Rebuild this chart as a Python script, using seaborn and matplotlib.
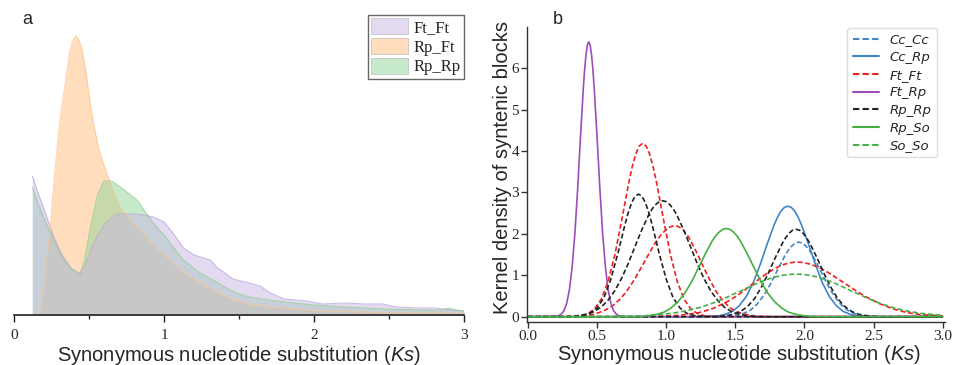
import matplotlib
matplotlib.use("Agg")
import matplotlib.pyplot as plt
from matplotlib.patches import Patch
import seaborn as sns
import pandas as pd

# ---- panel a: Ks distributions (arbitrary height units, no y axis) ----
a_pairs = ["Ft_Ft", "Rp_Ft", "Rp_Rp"]

a_ft_ft_ks = [0.122, 0.16, 0.2, 0.26, 0.32, 0.38, 0.44, 0.48, 0.52, 0.56, 0.61, 0.67, 0.72,
              0.8, 0.87, 0.93, 1.0, 1.06, 1.13, 1.2, 1.31, 1.35, 1.46, 1.57, 1.64, 1.71, 1.8,
              1.95, 2.06, 2.2, 2.35, 2.46, 2.55, 2.7, 2.8, 2.9, 3.0]
a_ft_ft_h = [139, 122, 106, 80, 60, 47, 41, 52, 68, 80, 92, 100, 101,
             101, 100, 98, 93, 82, 67, 60, 55, 48, 36, 32, 29, 22, 16,
             14, 11, 12, 11, 11, 8, 7, 7, 5.5, 4]

a_rp_ft_ks = [0.165, 0.2, 0.24, 0.26, 0.284, 0.31, 0.34, 0.37, 0.39, 0.41, 0.43, 0.45, 0.48,
              0.507, 0.535, 0.562, 0.59, 0.618, 0.66, 0.707, 0.78, 0.862, 0.93, 1.0, 1.07,
              1.13, 1.24, 1.35, 1.46, 1.57, 1.7, 1.8, 2.0, 2.2, 2.46, 2.7, 3.0]
a_rp_ft_h = [0, 30, 85, 122, 162, 200, 230, 262, 274, 279, 276, 268, 243,
             212, 188, 168, 154, 142, 125, 108, 94, 82, 70, 60, 51,
             43, 32, 23, 15, 11, 8, 7, 4.3, 3.5, 2.3, 2, 1.7]

a_rp_rp_ks = [0.122, 0.16, 0.2, 0.26, 0.32, 0.38, 0.44, 0.47, 0.5, 0.53, 0.56, 0.6, 0.65, 0.71,
              0.76, 0.82, 0.88, 0.95, 1.0, 1.06, 1.13, 1.24, 1.35, 1.44, 1.5, 1.57, 1.7,
              1.8, 2.0, 2.2, 2.46, 2.7, 2.85, 2.9, 2.95, 3.0]
a_rp_rp_h = [128, 112, 97, 76, 58, 46, 41, 55, 80, 103, 122, 134, 134, 128,
             122, 115, 102, 88, 80, 68, 55, 42, 33, 25, 21, 18, 15,
             13, 10, 8, 6, 5, 5, 7, 5, 4]

# ---- panel b: fitted kernel density peaks of syntenic blocks ----
b_pairs = ["Cc_Cc", "Cc_Rp", "Ft_Ft", "Ft_Rp", "Rp_Rp", "Rp_So", "So_So"]

cc_cc_ks = [0.0, 1.41, 1.46, 1.51, 1.56, 1.61, 1.66, 1.71, 1.76, 1.81, 1.86, 1.885, 1.91, 1.935,
            1.96, 1.985, 2.01, 2.035, 2.06, 2.11, 2.16, 2.21, 2.26, 2.31, 2.36, 2.41, 2.46, 2.51, 3.0]
cc_cc_den = [0, 0, 0.01, 0.03, 0.08, 0.16, 0.31, 0.53, 0.82, 1.16, 1.48, 1.61, 1.71, 1.78,
             1.80, 1.78, 1.71, 1.61, 1.48, 1.16, 0.82, 0.53, 0.31, 0.16, 0.08, 0.03, 0.01, 0, 0]

cc_rp_ks = [0.0, 1.28, 1.33, 1.38, 1.43, 1.48, 1.53, 1.58, 1.63, 1.68, 1.73, 1.78, 1.805, 1.83,
            1.855, 1.88, 1.905, 1.93, 1.955, 1.98, 2.03, 2.08, 2.13, 2.18, 2.23, 2.28, 2.33,
            2.38, 2.43, 2.48, 3.0]
cc_rp_den = [0, 0, 0.01, 0.02, 0.06, 0.13, 0.27, 0.49, 0.82, 1.26, 1.75, 2.21, 2.40, 2.55,
             2.64, 2.67, 2.64, 2.55, 2.40, 2.21, 1.75, 1.26, 0.82, 0.49, 0.27, 0.13, 0.06,
             0.02, 0.01, 0, 0]

ft_ft_1_ks = [0.0, 0.28, 0.33, 0.38, 0.43, 0.48, 0.53, 0.58, 0.63, 0.68, 0.73, 0.755, 0.78, 0.805,
              0.83, 0.855, 0.88, 0.905, 0.93, 0.98, 1.03, 1.08, 1.13, 1.18, 1.23, 1.28, 1.33,
              1.38, 3.0]
ft_ft_1_den = [0, 0, 0.01, 0.02, 0.07, 0.18, 0.42, 0.85, 1.51, 2.36, 3.25, 3.63, 3.93, 4.12,
               4.19, 4.12, 3.93, 3.63, 3.25, 2.36, 1.51, 0.85, 0.42, 0.18, 0.07, 0.02, 0.01,
               0, 0]

ft_ft_2_ks = [0.0, 0.315, 0.365, 0.415, 0.465, 0.515, 0.565, 0.615, 0.665, 0.715, 0.765, 0.815,
              0.865, 0.915, 0.965, 1.015, 1.065, 1.115, 1.165, 1.215, 1.265, 1.315, 1.365,
              1.415, 1.465, 1.515, 1.565, 1.615, 1.665, 1.765, 3.0]
ft_ft_2_den = [0, 0, 0.01, 0.03, 0.05, 0.10, 0.17, 0.27, 0.42, 0.62, 0.87, 1.16,
               1.46, 1.75, 1.99, 2.15, 2.21, 2.13, 1.91, 1.59, 1.23, 0.89, 0.59,
               0.37, 0.21, 0.11, 0.06, 0.03, 0.01, 0, 0]

ft_ft_3_ks = [0.0, 0.84, 0.94, 1.04, 1.14, 1.24, 1.34, 1.44, 1.49, 1.54, 1.59, 1.64, 1.69, 1.74,
              1.79, 1.84, 1.89, 1.94, 1.99, 2.04, 2.09, 2.14, 2.19, 2.24, 2.29, 2.34, 2.39,
              2.44, 2.54, 2.64, 2.74, 2.84, 2.94, 3.0]
ft_ft_3_den = [0, 0, 0.01, 0.02, 0.05, 0.10, 0.20, 0.36, 0.46, 0.57, 0.70, 0.83, 0.95, 1.07,
               1.17, 1.25, 1.30, 1.32, 1.31, 1.27, 1.21, 1.13, 1.03, 0.92, 0.81, 0.70, 0.59,
               0.49, 0.32, 0.19, 0.10, 0.05, 0.03, 0.02]

ft_rp_ks = [0.0, 0.20, 0.22, 0.24, 0.26, 0.28, 0.30, 0.32, 0.34, 0.36, 0.38, 0.40, 0.41, 0.42,
            0.43, 0.44, 0.45, 0.46, 0.47, 0.48, 0.50, 0.52, 0.54, 0.56, 0.58, 0.60, 0.62, 0.64,
            0.66, 0.68, 0.72, 3.0]
ft_rp_den = [0, 0.01, 0.02, 0.06, 0.14, 0.32, 0.65, 1.21, 2.03, 3.11, 4.34, 5.49, 5.97, 6.33,
             6.56, 6.64, 6.56, 6.33, 5.97, 5.49, 4.34, 3.11, 2.03, 1.21, 0.65, 0.32, 0.14, 0.06,
             0.02, 0.01, 0, 0]

rp_rp_1_ks = [0.0, 0.25, 0.30, 0.35, 0.40, 0.45, 0.50, 0.55, 0.60, 0.65, 0.70, 0.725, 0.75, 0.775,
              0.80, 0.825, 0.85, 0.875, 0.90, 0.95, 1.00, 1.05, 1.10, 1.15, 1.20, 1.25, 1.35, 3.0]
rp_rp_1_den = [0, 0, 0, 0.01, 0.03, 0.08, 0.21, 0.46, 0.91, 1.52, 2.20, 2.51, 2.75, 2.91,
               2.96, 2.91, 2.75, 2.51, 2.20, 1.52, 0.91, 0.46, 0.21, 0.08, 0.03, 0.01, 0, 0]

rp_rp_2_ks = [0.0, 0.275, 0.325, 0.375, 0.425, 0.475, 0.525, 0.575, 0.625, 0.675, 0.725, 0.775,
              0.825, 0.875, 0.90, 0.925, 0.95, 0.975, 1.00, 1.025, 1.05, 1.075, 1.125, 1.175,
              1.225, 1.275, 1.325, 1.375, 1.425, 1.475, 1.525, 1.575, 1.625, 1.675, 3.0]
rp_rp_2_den = [0, 0, 0.01, 0.03, 0.06, 0.12, 0.22, 0.38, 0.61, 0.91, 1.28, 1.70,
               2.11, 2.47, 2.61, 2.71, 2.78, 2.80, 2.78, 2.71, 2.61, 2.47, 2.11, 1.70,
               1.28, 0.91, 0.61, 0.38, 0.22, 0.12, 0.06, 0.03, 0.01, 0, 0]

rp_rp_3_ks = [0.0, 1.34, 1.39, 1.44, 1.49, 1.54, 1.59, 1.64, 1.69, 1.74, 1.79, 1.84, 1.865, 1.89,
              1.915, 1.94, 1.965, 1.99, 2.015, 2.04, 2.09, 2.14, 2.19, 2.24, 2.29, 2.34, 2.39,
              2.44, 2.49, 2.54, 3.0]
rp_rp_3_den = [0, 0, 0.01, 0.03, 0.06, 0.13, 0.25, 0.44, 0.72, 1.06, 1.43, 1.77, 1.91, 2.02,
               2.09, 2.11, 2.09, 2.02, 1.91, 1.77, 1.43, 1.06, 0.72, 0.44, 0.25, 0.13, 0.06,
               0.03, 0.01, 0, 0]

rp_so_ks = [0.0, 0.785, 0.835, 0.885, 0.935, 0.985, 1.035, 1.085, 1.135, 1.185, 1.235, 1.285,
            1.335, 1.36, 1.385, 1.41, 1.435, 1.46, 1.485, 1.51, 1.535, 1.585, 1.635, 1.685,
            1.735, 1.785, 1.835, 1.885, 1.935, 1.985, 2.035, 2.085, 3.0]
rp_so_den = [0, 0, 0.01, 0.03, 0.06, 0.11, 0.21, 0.36, 0.57, 0.85, 1.19, 1.53,
             1.84, 1.96, 2.05, 2.11, 2.13, 2.11, 2.05, 1.96, 1.84, 1.53, 1.19, 0.85,
             0.57, 0.36, 0.21, 0.11, 0.06, 0.03, 0.01, 0, 0]

so_so_ks = [0.0, 0.54, 0.74, 0.84, 0.94, 1.04, 1.14, 1.24, 1.34, 1.44, 1.49, 1.54, 1.59, 1.64,
            1.69, 1.74, 1.79, 1.84, 1.89, 1.94, 1.99, 2.04, 2.09, 2.14, 2.19, 2.24, 2.29,
            2.34, 2.39, 2.44, 2.54, 2.64, 2.74, 2.84, 2.94, 3.0]
so_so_den = [0, 0, 0.01, 0.02, 0.05, 0.08, 0.14, 0.22, 0.33, 0.47, 0.55, 0.62, 0.70, 0.78,
             0.85, 0.91, 0.96, 1.00, 1.02, 1.03, 1.02, 1.00, 0.96, 0.91, 0.85, 0.78, 0.70,
             0.62, 0.55, 0.47, 0.33, 0.22, 0.14, 0.08, 0.05, 0.03]

# ---- styles ----
a_fill = {"Ft_Ft": "#c8b6e4", "Rp_Ft": "#ffbd7d", "Rp_Rp": "#91d79b"}
a_edge = {"Ft_Ft": "#b9a2dc", "Rp_Ft": "#ffc48e", "Rp_Rp": "#8ccf8c"}
b_colors = {"Cc_Cc": "#3f86c8", "Cc_Rp": "#3f86c8", "Ft_Ft": "#f02020", "Ft_Rp": "#9c4db8",
            "Rp_Rp": "#222222", "Rp_So": "#44b044", "So_So": "#44b044"}
b_dashes = {"Cc_Cc": (3, 1.6), "Cc_Rp": "", "Ft_Ft": (3, 1.6), "Ft_Rp": "",
            "Rp_Rp": (3, 1.6), "Rp_So": "", "So_So": (3, 1.6)}


def build_panel_a():
    rows = []
    for pair, ks, h in [("Ft_Ft", a_ft_ft_ks, a_ft_ft_h),
                        ("Rp_Ft", a_rp_ft_ks, a_rp_ft_h),
                        ("Rp_Rp", a_rp_rp_ks, a_rp_rp_h)]:
        rows.append(pd.DataFrame({"pair": pair, "ks": ks, "h": h}))
    return pd.concat(rows, ignore_index=True)


def build_panel_b():
    comps = [("Cc_Cc", "cc_cc", cc_cc_ks, cc_cc_den),
             ("Cc_Rp", "cc_rp", cc_rp_ks, cc_rp_den),
             ("Ft_Ft", "ft_ft_1", ft_ft_1_ks, ft_ft_1_den),
             ("Ft_Ft", "ft_ft_2", ft_ft_2_ks, ft_ft_2_den),
             ("Ft_Ft", "ft_ft_3", ft_ft_3_ks, ft_ft_3_den),
             ("Ft_Rp", "ft_rp", ft_rp_ks, ft_rp_den),
             ("Rp_Rp", "rp_rp_1", rp_rp_1_ks, rp_rp_1_den),
             ("Rp_Rp", "rp_rp_2", rp_rp_2_ks, rp_rp_2_den),
             ("Rp_Rp", "rp_rp_3", rp_rp_3_ks, rp_rp_3_den),
             ("Rp_So", "rp_so", rp_so_ks, rp_so_den),
             ("So_So", "so_so", so_so_ks, so_so_den)]
    rows = []
    for pair, comp, ks, den in comps:
        rows.append(pd.DataFrame({"pair": pair, "comp": comp, "ks": ks, "density": den}))
    return pd.concat(rows, ignore_index=True)


sns.set_style("white")
plt.rcParams["font.family"] = ["Liberation Sans", "DejaVu Sans"]
plt.rcParams["mathtext.fontset"] = "custom"
plt.rcParams["mathtext.rm"] = "Liberation Sans"
plt.rcParams["mathtext.it"] = "Liberation Sans:italic"

fig = plt.figure(figsize=(9.55, 3.65), dpi=100)
ax_a = fig.add_axes([0.01466, 0.137, 0.4712, 0.8356])
ax_b = fig.add_axes([0.5521, 0.1186, 0.4374, 0.8066])

xlabel = "Synonymous nucleotide substitution ($\\mathit{Ks}$)"

# panel a
df_a = build_panel_a()
for pair in ["Rp_Ft", "Rp_Rp", "Ft_Ft"]:
    sub = df_a[df_a["pair"] == pair]
    ax_a.fill_between(sub["ks"], 0, sub["h"], color=a_fill[pair], alpha=0.5, lw=0)
sns.lineplot(data=df_a, x="ks", y="h", hue="pair", palette=a_edge, estimator=None,
             sort=False, lw=0.8, alpha=0.7, legend=False, ax=ax_a)
ax_a.set_xlim(0, 3)
ax_a.set_ylim(0, 305)
ax_a.set_yticks([])
ax_a.set_ylabel("")
for side in ["top", "right", "left"]:
    ax_a.spines[side].set_visible(False)
ax_a.spines["bottom"].set_color("#222222")
ax_a.spines["bottom"].set_linewidth(1.2)
ax_a.set_xticks([0, 1, 2, 3])
ax_a.set_xticks([0.5, 1.5, 2.5], minor=True)
ax_a.tick_params(axis="x", which="major", direction="out", length=5, width=1, color="#222222",
                 labelsize=11, pad=5, bottom=True)
ax_a.tick_params(axis="x", which="minor", direction="out", length=3, width=1, color="#222222",
                 bottom=True)
for lbl in ax_a.get_xticklabels():
    lbl.set_family("Liberation Serif")
ax_a.set_xlabel(xlabel, fontsize=14.5)
ax_a.xaxis.set_label_coords(0.5, -0.094)
handles_a = [Patch(facecolor=a_fill[p], alpha=0.5, edgecolor="#999999", lw=0.6) for p in a_pairs]
leg_a = ax_a.legend(handles_a, a_pairs, loc="upper right", bbox_to_anchor=(1.0, 0.984),
                    borderaxespad=0, prop={"family": "Liberation Serif", "size": 12},
                    fancybox=False, framealpha=1, edgecolor="#666666", borderpad=0.2,
                    labelspacing=0.12, handlelength=2.2, handleheight=1.1, handletextpad=0.35)
leg_a.get_frame().set_linewidth(1.0)
fig.text(22 / 955, 1 - 20 / 365, "a", fontsize=13, va="center", ha="left")

# panel b
df_b = build_panel_b()
sns.lineplot(data=df_b, x="ks", y="density", hue="pair", style="pair", units="comp",
             estimator=None, hue_order=b_pairs, style_order=b_pairs, palette=b_colors,
             dashes=b_dashes, lw=1.2, ax=ax_b)
ax_b.set_xlim(-0.005, 3.017)
ax_b.set_ylim(-0.121, 6.99)
ax_b.set_xticks([0.0, 0.5, 1.0, 1.5, 2.0, 2.5, 3.0])
ax_b.set_yticks([0, 1, 2, 3, 4, 5, 6])
for side in ["top", "right"]:
    ax_b.spines[side].set_visible(False)
for side in ["left", "bottom"]:
    ax_b.spines[side].set_color("#333333")
    ax_b.spines[side].set_linewidth(1.0)
ax_b.tick_params(axis="both", direction="out", length=4, width=1, color="#333333",
                 labelsize=11, pad=2, bottom=True, left=True)
for lbl in ax_b.get_xticklabels() + ax_b.get_yticklabels():
    lbl.set_family("Liberation Serif")
ax_b.set_xlabel(xlabel, fontsize=14.5)
ax_b.xaxis.set_label_coords(0.5075, -0.072)
ax_b.set_ylabel("Kernel density of syntenic blocks", fontsize=14.5)
ax_b.yaxis.set_label_coords(-0.037, 0.524)
handles_b, labels_b = ax_b.get_legend_handles_labels()
leg_b = ax_b.legend(handles_b, labels_b, loc="upper right", bbox_to_anchor=(0.98, 0.997),
                    borderaxespad=0, prop={"family": "DejaVu Sans", "style": "italic", "size": 9.5},
                    frameon=True, edgecolor="#dddddd", framealpha=1, labelspacing=0.35,
                    handlelength=2.0, handletextpad=0.8, borderpad=0.4)
for line in leg_b.get_lines():
    line.set_linewidth(1.5)
fig.text(553 / 955, 1 - 20 / 365, "b", fontsize=13, va="center", ha="left")

fig.savefig("out.png", dpi=100)
